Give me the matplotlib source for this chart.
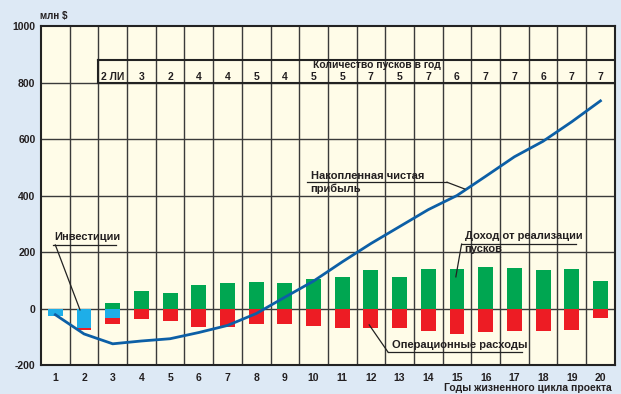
import numpy as np
import matplotlib.pyplot as plt

plt.rcParams['font.family'] = ['Liberation Sans', 'DejaVu Sans']
plt.rcParams['font.weight'] = 'bold'
plt.rcParams['axes.unicode_minus'] = False

years = np.arange(1, 21)
income = [0, 0, 20, 63, 55, 83, 90, 94, 90, 104, 111, 136, 111, 140, 140, 147, 143, 136, 140, 97]
opex = [0, 5, 23, 37, 44, 65, 65, 55, 55, 62, 69, 69, 69, 80, 90, 83, 80, 80, 76, 34]
invest = [25, 70, 32, 0, 0, 0, 0, 0, 0, 0, 0, 0, 0, 0, 0, 0, 0, 0, 0, 0]
cum_profit = [-22, -90, -125, -115, -107, -85, -60, -18, 40, 97, 165, 230, 290, 350,
              400, 468, 537, 592, 661, 735]
launch_years = np.arange(3, 21)
launches = ['2 ЛИ', '3', '2', '4', '4', '5', '4', '5', '5', '7', '5', '7', '6', '7', '7', '6', '7', '7']

GREEN = '#00a651'
RED = '#ed1c24'
CYAN = '#1eaee8'
BLUE = '#0c5fa6'
TEXT = '#231f20'
GRID = '#3a3a3a'
LEAD = '#222222'

fig = plt.figure(figsize=(6.21, 3.94), dpi=100, facecolor='#dde9f5')
ax = fig.add_axes([0.066, 0.0736, 0.924, 0.8604])
ax.set_facecolor('#fffce8')

ax.set_xlim(0.5, 20.5)
ax.set_ylim(-200, 1000)

# grid
for x in np.arange(1.5, 20.5, 1.0):
    ax.axvline(x, color=GRID, lw=1.0, zorder=1)
for y in [0, 200, 400, 600, 800]:
    ax.axhline(y, color=GRID, lw=1.0, zorder=1)

# bars: income up, investments and operating costs stacked downwards
inv_neg = -np.array(invest)
op_neg = -np.array(opex)
ax.bar(years, income, width=0.52, color=GREEN, zorder=2)
ax.bar(years, inv_neg, width=0.52, color=CYAN, zorder=2)
ax.bar(years, op_neg, width=0.52, bottom=inv_neg, color=RED, zorder=2)

ax.plot(years, cum_profit, color=BLUE, lw=2.0, zorder=4)

# launches table
ax.plot([2.5, 20.5], [880, 880], color=LEAD, lw=1.5, zorder=3)
ax.plot([2.5, 2.5], [800, 880], color=LEAD, lw=1.5, zorder=3)
ax.plot([2.5, 20.5], [800, 800], color=LEAD, lw=1.5, zorder=3)
ax.text(12.2, 862, 'Количество пусков в год', ha='center', va='center',
        fontsize=7.5, color=TEXT, zorder=5)
for x, s in zip(launch_years, launches):
    ax.text(x, 820, s, ha='center', va='center', fontsize=7.5, color=TEXT, zorder=5)

# annotations
ax.text(0.95, 254, 'Инвестиции', ha='left', va='center', fontsize=8, color=TEXT, zorder=5)
ax.plot([0.92, 3.1], [225, 225], color=LEAD, lw=0.9, zorder=5)
ax.plot([1.0, 1.86], [225, -5], color=LEAD, lw=0.9, zorder=5)

ax.text(9.9, 469, 'Накопленная чистая', ha='left', va='center', fontsize=8, color=TEXT, zorder=5)
ax.text(9.9, 423, 'прибыль', ha='left', va='center', fontsize=8, color=TEXT, zorder=5)
ax.plot([9.76, 14.65], [447, 447], color=LEAD, lw=0.9, zorder=5)
ax.plot([14.65, 15.27], [447, 423], color=LEAD, lw=0.9, zorder=5)

ax.text(15.27, 256, 'Доход от реализации', ha='left', va='center', fontsize=8, color=TEXT, zorder=5)
ax.text(15.27, 210, 'пусков', ha='left', va='center', fontsize=8, color=TEXT, zorder=5)
ax.plot([15.16, 19.16], [228, 228], color=LEAD, lw=0.9, zorder=5)
ax.plot([15.16, 14.96], [228, 112], color=LEAD, lw=0.9, zorder=5)

ax.text(12.72, -129, 'Операционные расходы', ha='left', va='center', fontsize=8, color=TEXT, zorder=5)
ax.plot([12.6, 17.25], [-155, -155], color=LEAD, lw=0.9, zorder=5)
ax.plot([12.6, 11.94], [-155, -58], color=LEAD, lw=0.9, zorder=5)

# axes
ax.set_xticks(years)
ax.set_yticks([-200, 0, 200, 400, 600, 800, 1000])
ax.tick_params(length=0, labelsize=7.5, labelcolor=TEXT, pad=6)
ax.tick_params(axis='y', pad=4)
for sp in ax.spines.values():
    sp.set_color(LEAD)
    sp.set_linewidth(1.5)

fig.text(0.064, 0.960, 'млн $', ha='left', va='center', fontsize=7, color=TEXT)
fig.text(0.985, 0.003, 'Годы жизненного цикла проекта', ha='right', va='bottom',
         fontsize=7.5, color=TEXT)

fig.savefig('out.png', dpi=100, facecolor=fig.get_facecolor())
